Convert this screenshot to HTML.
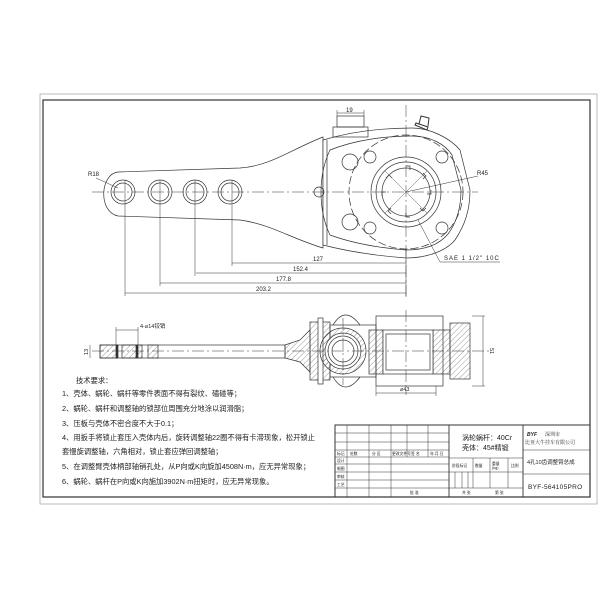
<!DOCTYPE html>
<html><head><meta charset="utf-8"><style>
html,body{margin:0;padding:0;background:#fff;}
svg{display:block;}
text{font-family:"Liberation Sans","Noto Sans CJK SC",sans-serif;fill:#222;}
.cn{font-family:"Liberation Serif","Noto Serif CJK SC",serif;}
.nf path,.nf circle,.nf rect,.nf line{fill:none;}
.nf .wf{fill:#fff;}
</style></head><body>
<svg width="600" height="600" viewBox="0 0 600 600" xmlns="http://www.w3.org/2000/svg">
<defs>
<pattern id="h" width="4" height="4" patternUnits="userSpaceOnUse" patternTransform="rotate(45)">
<line x1="0" y1="0" x2="0" y2="4" stroke="#555" stroke-width="0.6"/></pattern>
</defs>
<rect width="600" height="600" fill="#fff"/>
<rect x="40" y="94" width="557" height="410" style="fill:none" stroke="#aaa" stroke-width="0.8"/>
<rect x="43" y="100" width="547" height="397" style="fill:none" stroke="#333" stroke-width="1.2"/>

<g class="nf" stroke="#333" stroke-width="0.7">
<path class="wf" d="M323,137 C290,150 270,166 240,168 L118,172 C100,174 98,212 118,216 L240,220 C270,224 290,238 323,248 Z"/>
<path class="wf" d="M323,140 C350,132 380,128 412,128 C430,128 450,138 460,150 L470,190 C470,210 465,225 455,240 C445,252 425,258 406,258 C380,256 350,252 323,245 Z"/>
<line x1="92" y1="192" x2="478" y2="192" stroke-dasharray="12,3,2,3" stroke-width="0.5"/>
<line x1="406" y1="105" x2="406" y2="300" stroke-dasharray="12,3,2,3" stroke-width="0.5"/>
<line x1="327" y1="140" x2="327" y2="245"/>
<path fill="none" d="M330,150 C355,140 385,136 412,136 C430,136 445,144 452,155 L461,190 C461,208 457,222 448,234 C438,246 422,250 406,250 C380,248 352,243 330,235 C318,210 318,175 330,150Z"/>
<circle cx="406" cy="192" r="57" stroke-dasharray="8,3"/>
<circle cx="406" cy="192" r="35"/>
<circle cx="406" cy="192" r="30"/>
<circle cx="406" cy="192" r="24"/>
<path fill="none" d="M406,166 l4,0 0,4 M423,173 l3,3 -3,3 M431,190 l0,4 -4,0 M426,208 l-3,3 -3,-3 M410,217 l-4,0 0,-4 M391,214 l-3,-3 3,-3 M382,196 l0,-4 4,0 M386,178 l3,-3 3,3"/>
<line x1="385" y1="171" x2="427" y2="213" stroke-width="0.4"/>
<line x1="427" y1="171" x2="385" y2="213" stroke-width="0.4"/>
<circle cx="370" cy="157" r="6"/><circle cx="442" cy="157" r="6"/>
<circle cx="370" cy="228" r="6"/><circle cx="442" cy="228" r="6"/>
<circle cx="350" cy="162" r="8"/><circle cx="350" cy="222" r="8"/>
<circle cx="319" cy="192" r="5"/>
<rect x="333" y="127" width="35" height="10"/>
<rect x="337" y="116" width="27" height="11"/>
<line x1="337" y1="113" x2="364" y2="113" stroke-width="0.5"/>
<line x1="337" y1="110" x2="337" y2="116" stroke-width="0.5"/>
<line x1="364" y1="110" x2="364" y2="116" stroke-width="0.5"/>
<path fill="none" d="M415,125 l12,5 l1,-3 l-12,-4 z M419,124 l2,-8 l8,2 l-1,8" stroke-width="1"/>
<circle cx="123" cy="192" r="12"/><circle cx="123" cy="192" r="9"/>
<circle cx="160" cy="192" r="12"/><circle cx="160" cy="192" r="9"/>
<circle cx="195" cy="192" r="12"/><circle cx="195" cy="192" r="9"/>
<circle cx="230" cy="192" r="12"/><circle cx="230" cy="192" r="9"/>
<g stroke-width="0.5">
<line x1="125" y1="180" x2="125" y2="296"/><line x1="160" y1="180" x2="160" y2="286"/>
<line x1="195" y1="180" x2="195" y2="276"/><line x1="232" y1="180" x2="232" y2="266"/>
<line x1="406" y1="250" x2="406" y2="296"/>
<line x1="232" y1="263" x2="406" y2="263"/>
<line x1="196" y1="273" x2="406" y2="273"/>
<line x1="160" y1="283" x2="406" y2="283"/>
<line x1="125" y1="293" x2="406" y2="293"/>
<line x1="96" y1="178" x2="118" y2="188"/>
<line x1="406" y1="192" x2="478" y2="176"/>
<line x1="418" y1="220" x2="440" y2="262"/><line x1="440" y1="262" x2="500" y2="262"/>
</g>
</g>
<g font-size="6">
<text x="346" y="112">19</text>
<text x="88" y="176">R18</text>
<text x="477" y="175">R45</text>
<text x="313" y="261">127</text>
<text x="293" y="271">152.4</text>
<text x="276" y="281">177.8</text>
<text x="256" y="291">203.2</text>
<text x="444" y="260" letter-spacing="1">SAE 1 1/2" 10C</text>
</g>

<g stroke="#333" stroke-width="0.7">
<rect x="100" y="345" width="185" height="13" style="fill:none"/>
<rect x="100" y="345" width="17" height="13" fill="url(#h)"/>
<rect x="122" y="345" width="20" height="13" fill="url(#h)"/>
<rect x="148" y="345" width="10" height="13" fill="url(#h)"/>
<rect x="116" y="345" width="2" height="13" fill="#333"/>
<rect x="136" y="345" width="2" height="13" fill="#333"/>
<path d="M285,345 L300,340 L310,330 L310,372 L300,362 L285,358 Z" fill="url(#h)"/>
<rect x="310" y="322" width="20" height="58" fill="url(#h)"/>
<rect x="318" y="318" width="5" height="66" fill="#fff"/>
<rect x="330" y="325" width="46" height="52" style="fill:none"/>
<path d="M333,325 Q345,305 360,325 M333,377 Q345,397 360,377" style="fill:none"/>
<circle cx="343" cy="351" r="23" fill="url(#h)"/>
<circle cx="343" cy="351" r="18" fill="#fff"/>
<circle cx="343" cy="351" r="15" style="fill:none"/>
<circle cx="343" cy="351" r="11" style="fill:none"/>
<rect x="376" y="316" width="67" height="70" style="fill:none"/>
<rect x="369" y="330" width="14" height="44" fill="url(#h)"/>
<rect x="433" y="330" width="17" height="44" fill="url(#h)"/>
<rect x="383" y="330" width="50" height="44" fill="#fff"/>
<rect x="386" y="334" width="44" height="36" style="fill:none"/>
<rect x="450" y="323" width="20" height="56" fill="url(#h)"/>
</g>
<g class="nf" stroke="#333" stroke-width="0.5">
<line x1="92" y1="351" x2="490" y2="351" stroke-dasharray="12,3,2,3"/>
<line x1="406" y1="310" x2="406" y2="395" stroke-dasharray="12,3,2,3"/>
<line x1="343" y1="318" x2="343" y2="385" stroke-dasharray="12,3,2,3"/>
<line x1="116" y1="330" x2="138" y2="330"/><line x1="116" y1="327" x2="116" y2="345"/><line x1="138" y1="327" x2="138" y2="345"/>
<line x1="90" y1="345" x2="90" y2="358"/>
<line x1="472" y1="316" x2="485" y2="316"/><line x1="472" y1="386" x2="485" y2="386"/><line x1="483" y1="316" x2="483" y2="386"/>
<line x1="376" y1="386" x2="376" y2="396"/><line x1="436" y1="386" x2="436" y2="396"/><line x1="376" y1="393" x2="436" y2="393"/>
</g>
<g font-size="5.5">
<text x="140" y="328">4-⌀14铰销</text>
<text x="0" y="0" transform="translate(88,355) rotate(-90)">13</text>
<text x="0" y="0" transform="translate(490,348) rotate(90)">51</text>
<text x="400" y="391">⌀43</text>
</g>

<g class="cn" font-size="7.3">
<text x="76" y="383">技术要求：</text>
<text x="62" y="396">1、壳体、蜗轮、蜗杆等零件表面不得有裂纹、磕碰等；</text>
<text x="62" y="411">2、蜗轮、蜗杆和调整轴的锁部位周围充分地涂以润滑脂；</text>
<text x="62" y="426">3、压板与壳体不密合度不大于0.1；</text>
<text x="62" y="440">4、用扳手将锁止套压入壳体内后，旋转调整轴22圈不得有卡滞现象，松开锁止</text>
<text x="62" y="454">套慢旋调整轴，六角相对，锁止套应弹回调整轴；</text>
<text x="62" y="469">5、在调整臂壳体柄部轴销孔处，从P向或K向旋加4508N·m，应无异常现象；</text>
<text x="62" y="484">6、蜗轮、蜗杆在P向或K向施加3902N·m扭矩时，应无异常现象。</text>
</g>

<g stroke="#333" class="nf">
<rect x="335" y="425" width="255" height="72" stroke-width="1"/>
<line x1="449" y1="425" x2="449" y2="497" stroke-width="0.9"/>
<line x1="523" y1="425" x2="523" y2="497" stroke-width="0.9"/>
<g stroke-width="0.5">
<line x1="335" y1="433" x2="449" y2="433"/><line x1="335" y1="442" x2="449" y2="442"/>
<line x1="335" y1="450" x2="449" y2="450"/><line x1="335" y1="457" x2="449" y2="457"/>
<line x1="335" y1="464" x2="449" y2="464"/><line x1="335" y1="472" x2="449" y2="472"/>
<line x1="335" y1="480" x2="449" y2="480"/><line x1="335" y1="488" x2="449" y2="488"/>
<line x1="347" y1="425" x2="347" y2="497"/><line x1="369" y1="425" x2="369" y2="497"/>
<line x1="391" y1="425" x2="391" y2="497"/><line x1="407" y1="425" x2="407" y2="457"/>
<line x1="428" y1="425" x2="428" y2="457"/>
<line x1="449" y1="458" x2="523" y2="458"/><line x1="449" y1="472" x2="523" y2="472"/>
<line x1="449" y1="488" x2="523" y2="488"/>
<line x1="473" y1="458" x2="473" y2="488"/><line x1="490" y1="458" x2="490" y2="488"/>
<line x1="508" y1="458" x2="508" y2="488"/>
<line x1="455" y1="472" x2="455" y2="488"/><line x1="462" y1="472" x2="462" y2="488"/><line x1="468" y1="472" x2="468" y2="488"/>
<line x1="523" y1="450" x2="590" y2="450"/><line x1="523" y1="474" x2="590" y2="474"/>
</g>
</g>
<g font-size="3.8" fill="#444">
<text x="337" y="455">标记</text><text x="350" y="455">处数</text><text x="372" y="455">分 区</text>
<text x="392" y="455">更改文件号</text><text x="411" y="455">签 名</text><text x="430" y="455">年.月.日</text>
<text x="337" y="462">设计</text><text x="337" y="470">制图</text><text x="337" y="478">审核</text><text x="337" y="486">工艺</text>
<text x="410" y="494">批 准</text>
<text x="452" y="467">阶段标记</text><text x="475" y="467">数量</text><text x="492" y="465">重量</text><text x="492" y="469">(kg)</text><text x="511" y="467">比例</text>
<text x="462" y="494">共 张</text><text x="495" y="494">第 张</text>
</g>
<g class="cn" font-size="7">
<text x="462" y="440">涡轮蜗杆：40Cr</text>
<text x="462" y="450">壳体：45#精锻</text>
</g>
<text x="527" y="436" font-size="5" font-style="italic" fill="#3a6fb5" font-weight="bold">BYF</text>
<text x="545" y="436" font-size="5" class="cn">深圳市</text>
<text x="525" y="444" font-size="5" class="cn">比亚大牛挂车有限公司</text>
<text x="527" y="464" font-size="5.5">4孔10齿调整臂总成</text>
<text x="528" y="489" font-size="6.5" letter-spacing="0.3" fill="#444">BYF-564105PRO</text>
</svg>
</body></html>
